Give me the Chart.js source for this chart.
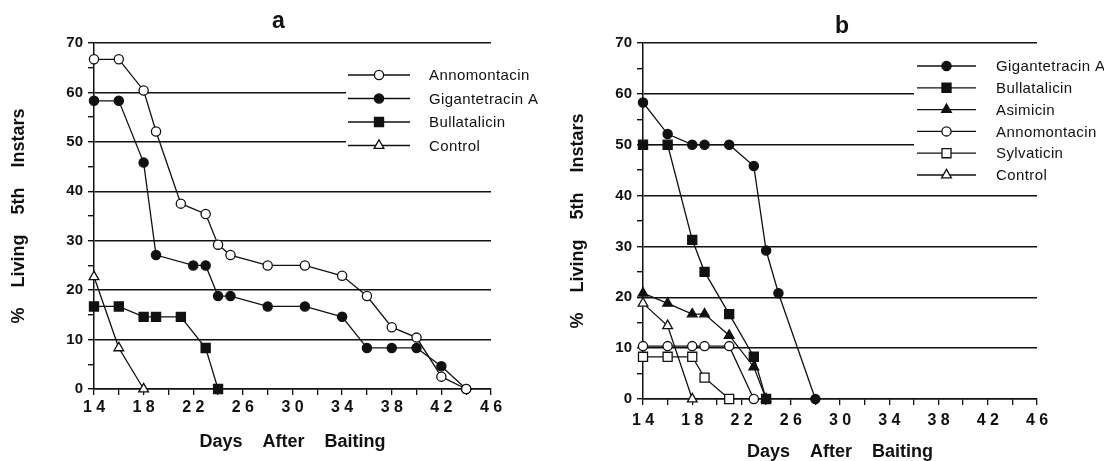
<!DOCTYPE html>
<html><head><meta charset="utf-8">
<script src="https://cdn.jsdelivr.net/npm/chart.js@4/dist/chart.umd.min.js"></script>
<style>
html,body{margin:0;padding:0;background:#fff;}
#wrap{position:relative;width:1104px;height:461px;overflow:hidden;background:#fff;}
canvas{position:absolute;top:0;}
#ca{left:0}
#cb{left:552px}
</style></head><body>
<div id="wrap"><canvas id="ca" width="552" height="461"></canvas><canvas id="cb" width="552" height="461"></canvas></div>
<script>
// ---------------- data ----------------
const xTickLabels = [14, 18, 22, 26, 30, 34, 38, 42, 46];
const yTickLabels = [0, 10, 20, 30, 40, 50, 60, 70];
const panelTitles = ['a', 'b'];
const xAxisTitle = 'Days    After    Baiting';
const yAxisTitle = '%    Living    5th    Instars';

// Panel a
const aSeriesNames = ['Annomontacin', 'Gigantetracin A', 'Bullatalicin', 'Control'];
const aAnnomontacinDays = [14, 16, 18, 19, 21, 23, 24, 25, 28, 31, 34, 36, 38, 40, 42, 44];
const aAnnomontacinPct  = [66.7, 66.7, 60.4, 52.1, 37.5, 35.4, 29.2, 27.1, 25.0, 25.0, 22.9, 18.8, 12.5, 10.4, 2.5, 0];
const aGigantetracinDays = [14, 16, 18, 19, 22, 23, 24, 25, 28, 31, 34, 36, 38, 40, 42, 44];
const aGigantetracinPct  = [58.3, 58.3, 45.8, 27.1, 25.0, 25.0, 18.8, 18.8, 16.7, 16.7, 14.6, 8.3, 8.3, 8.3, 4.6, 0];
const aBullatalicinDays = [14, 16, 18, 19, 21, 23, 24];
const aBullatalicinPct  = [16.7, 16.7, 14.6, 14.6, 14.6, 8.3, 0];
const aControlDays = [14, 16, 18];
const aControlPct  = [22.7, 8.3, 0];

// Panel b
const bSeriesNames = ['Gigantetracin A', 'Bullatalicin', 'Asimicin', 'Annomontacin', 'Sylvaticin', 'Control'];
const bGigantetracinDays = [14, 16, 18, 19, 21, 23, 24, 25, 28];
const bGigantetracinPct  = [58.3, 52.1, 50.0, 50.0, 50.0, 45.8, 29.2, 20.8, 0];
const bBullatalicinDays = [14, 16, 18, 19, 21, 23, 24];
const bBullatalicinPct  = [50.0, 50.0, 31.3, 25.0, 16.7, 8.3, 0];
const bAsimicinDays = [14, 16, 18, 19, 21, 23, 24];
const bAsimicinPct  = [20.8, 18.8, 16.7, 16.7, 12.5, 6.3, 0];
const bAnnomontacinDays = [14, 16, 18, 19, 21, 23];
const bAnnomontacinPct  = [10.4, 10.4, 10.4, 10.4, 10.4, 0];
const bSylvaticinDays = [14, 16, 18, 19, 21];
const bSylvaticinPct  = [8.3, 8.3, 8.3, 4.2, 0];
const bControlDays = [14, 16, 18];
const bControlPct  = [18.8, 14.4, 0];

// ---------------- styling ----------------
const INK = '#111';
const FONT = "'Liberation Sans', Arial, Helvetica, sans-serif";
const markerStyles = {
  'Annomontacin':    { pointStyle: 'circle',   filled: false, r: 4.6 },
  'Gigantetracin A': { pointStyle: 'circle',   filled: true,  r: 4.6 },
  'Bullatalicin':    { pointStyle: 'rect',     filled: true,  r: 6.4 },
  'Asimicin':        { pointStyle: 'triangle', filled: true,  r: 5.6 },
  'Sylvaticin':      { pointStyle: 'rect',     filled: false, r: 6.4 },
  'Control':         { pointStyle: 'triangle', filled: false, r: 5.6 }
};

function makeDataset(name, days, pct) {
  const m = markerStyles[name];
  return {
    label: name,
    data: days.map((d, i) => ({ x: d, y: pct[i] })),
    borderColor: INK,
    borderWidth: 1.3,
    tension: 0,
    fill: false,
    clip: false,
    pointStyle: m.pointStyle,
    pointRadius: m.r,
    pointHoverRadius: m.r,
    pointBorderWidth: 1.3,
    pointBorderColor: INK,
    pointBackgroundColor: m.filled ? INK : '#fff'
  };
}

const panelTitlePlugin = {
  id: 'panelTitle',
  afterDraw(chart, args, o) {
    const ctx = chart.ctx, ca = chart.chartArea;
    ctx.save();
    ctx.fillStyle = INK;
    ctx.font = 'bold 23px ' + FONT;
    ctx.textAlign = 'center';
    ctx.textBaseline = 'alphabetic';
    ctx.fillText(o.text, (ca.left + ca.right) / 2 + o.dx, o.baseline);
    ctx.restore();
  }
};

const legendBoxPlugin = {
  id: 'legendBox',
  beforeDatasetsDraw(chart, args, o) {
    const ctx = chart.ctx, ca = chart.chartArea;
    ctx.save();
    ctx.fillStyle = '#fff';
    ctx.fillRect(ca.left + o.boxX, o.boxTop, chart.width - (ca.left + o.boxX), o.boxBottom - o.boxTop);
    ctx.restore();
  },
  afterDatasetsDraw(chart, args, o) {
    const ctx = chart.ctx, ca = chart.chartArea;
    const lx = ca.left + o.lineX;
    ctx.save();
    chart.data.datasets.forEach((ds, i) => {
      const y = o.top + i * o.rowH;
      ctx.strokeStyle = INK;
      ctx.lineWidth = 1.3;
      ctx.beginPath();
      ctx.moveTo(lx, y);
      ctx.lineTo(lx + o.lineLen, y);
      ctx.stroke();
      ctx.fillStyle = ds.pointBackgroundColor;
      ctx.strokeStyle = INK;
      ctx.lineWidth = 1.3;
      if (Chart.helpers && Chart.helpers.drawPoint) {
        Chart.helpers.drawPoint(ctx, { pointStyle: ds.pointStyle, radius: ds.pointRadius, borderWidth: 1.3, rotation: 0 }, lx + o.lineLen / 2, y);
      }
      ctx.fillStyle = INK;
      ctx.font = '15px ' + FONT;
      try { ctx.letterSpacing = '0.4px'; } catch (e) {}
      ctx.textAlign = 'left';
      ctx.textBaseline = 'middle';
      ctx.fillText(ds.label, ca.left + o.textX, y + 1);
      try { ctx.letterSpacing = '0px'; } catch (e) {}
    });
    ctx.restore();
  }
};

function makeOptions(cfg) {
  return {
    responsive: false,
    animation: false,
    devicePixelRatio: 1,
    layout: { padding: { left: 0, right: cfg.padRight, top: 43, bottom: 0 } },
    plugins: {
      legend: { display: false },
      title: { display: false },
      tooltip: { enabled: false },
      panelTitle: cfg.title,
      legendBox: cfg.legend
    },
    scales: {
      x: {
        type: 'linear', min: 14, max: 46,
        afterFit: s => { s.height = cfg.xH; },
        ticks: {
          stepSize: 2, autoSkip: false, maxRotation: 0, color: INK, padding: cfg.xTickPad,
          font: { family: FONT, size: 16, weight: 'bold' },
          callback: v => xTickLabels.includes(v) ? String(v).split('').join(' ') : ''
        },
        grid: { drawOnChartArea: false, drawTicks: true, tickLength: 6, color: INK, tickColor: INK, lineWidth: 1.3 },
        border: { display: true, color: INK, width: 1.5 },
        title: {
          display: true, text: xAxisTitle, color: INK,
          font: { family: FONT, size: 18, weight: 'bold', lineHeight: 1 },
          padding: { top: 0, bottom: cfg.xTitlePad }
        }
      },
      y: {
        type: 'linear', min: 0, max: 70,
        afterFit: s => { s.width = cfg.yW; },
        ticks: {
          stepSize: 5, autoSkip: false, color: INK, padding: 5,
          font: { family: FONT, size: 15, weight: 'bold' },
          callback: v => yTickLabels.includes(v) ? String(v) : ''
        },
        grid: {
          color: c => (c.tick && yTickLabels.includes(c.tick.value)) ? INK : 'rgba(0,0,0,0)',
          tickColor: INK, lineWidth: 1.4, tickLength: 6, drawTicks: true
        },
        border: { display: true, color: INK, width: 1.5 },
        title: {
          display: true, text: yAxisTitle, color: INK,
          font: { family: FONT, size: 18, weight: 'bold', lineHeight: 1 },
          padding: { top: cfg.yTitlePad, bottom: 0 }
        }
      }
    }
  };
}

new Chart(document.getElementById('ca'), {
  type: 'line',
  data: {
    datasets: [
      makeDataset(aSeriesNames[0], aAnnomontacinDays, aAnnomontacinPct),
      makeDataset(aSeriesNames[1], aGigantetracinDays, aGigantetracinPct),
      makeDataset(aSeriesNames[2], aBullatalicinDays, aBullatalicinPct),
      makeDataset(aSeriesNames[3], aControlDays, aControlPct)
    ]
  },
  options: makeOptions({
    padRight: 61, xH: 72, yW: 94, xTickPad: 3, xTitlePad: 10, yTitlePad: 10,
    title: { text: panelTitles[0], dx: -14, baseline: 28 },
    legend: { lineX: 254, lineLen: 62, textX: 335, top: 75, rowH: 23.5, boxX: 252, boxTop: 62, boxBottom: 160 }
  }),
  plugins: [panelTitlePlugin, legendBoxPlugin]
});

new Chart(document.getElementById('cb'), {
  type: 'line',
  data: {
    datasets: [
      makeDataset(bSeriesNames[0], bGigantetracinDays, bGigantetracinPct),
      makeDataset(bSeriesNames[1], bBullatalicinDays, bBullatalicinPct),
      makeDataset(bSeriesNames[2], bAsimicinDays, bAsimicinPct),
      makeDataset(bSeriesNames[3], bAnnomontacinDays, bAnnomontacinPct),
      makeDataset(bSeriesNames[4], bSylvaticinDays, bSylvaticinPct),
      makeDataset(bSeriesNames[5], bControlDays, bControlPct)
    ]
  },
  options: makeOptions({
    padRight: 67, xH: 62, yW: 91, xTickPad: 6, xTitlePad: 0, yTitlePad: 17,
    title: { text: panelTitles[1], dx: 2, baseline: 33 },
    legend: { lineX: 274, lineLen: 59, textX: 353, top: 66, rowH: 21.8, boxX: 271, boxTop: 55, boxBottom: 186 }
  }),
  plugins: [panelTitlePlugin, legendBoxPlugin]
});
</script>
</body></html>
